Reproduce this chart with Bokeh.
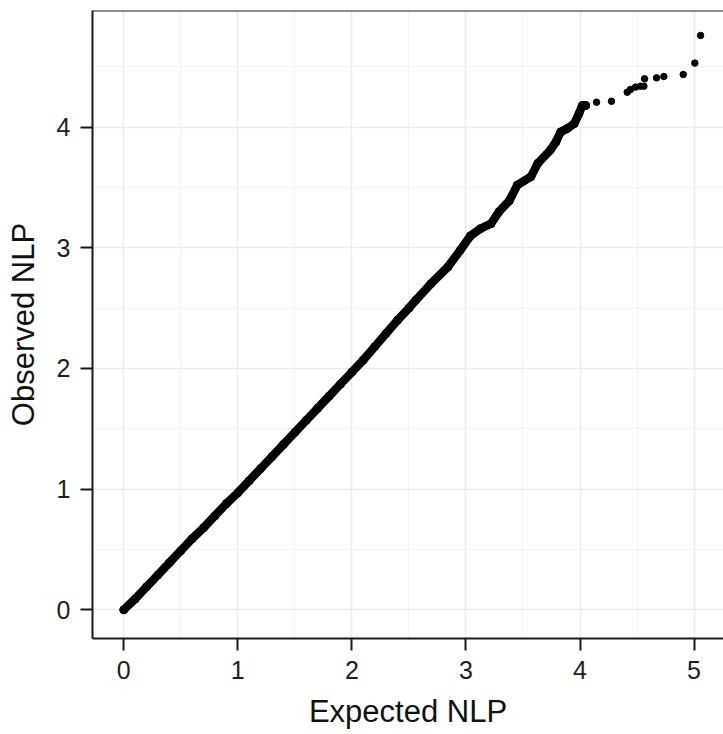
from bokeh.plotting import figure
from bokeh.models import Range1d, SingleIntervalTicker, Span, ColumnDataSource
from bokeh.embed import file_html
from bokeh.resources import INLINE

# Dense part of the QQ trace (expected NLP, observed NLP)
dense_expected = [0.00, 0.10, 0.20, 0.30, 0.40, 0.50, 0.60, 0.70, 0.80, 0.90,
                  1.00, 1.10, 1.20, 1.30, 1.40, 1.50, 1.60, 1.70, 1.80, 1.90,
                  2.00, 2.10, 2.20, 2.30, 2.40, 2.50, 2.56, 2.69, 2.84, 2.95,
                  3.04, 3.13, 3.22, 3.29, 3.38, 3.45, 3.57, 3.63, 3.74, 3.79,
                  3.83, 3.89, 3.95, 3.99, 4.02, 4.05]
dense_observed = [0.00, 0.09, 0.19, 0.29, 0.39, 0.49, 0.59, 0.68, 0.78, 0.88,
                  0.97, 1.07, 1.17, 1.27, 1.37, 1.47, 1.57, 1.67, 1.77, 1.87,
                  1.97, 2.07, 2.18, 2.29, 2.40, 2.50, 2.565, 2.70, 2.84, 2.98,
                  3.10, 3.16, 3.20, 3.30, 3.39, 3.52, 3.59, 3.70, 3.81, 3.88,
                  3.96, 3.99, 4.03, 4.11, 4.18, 4.18]

# Sparse tail points
tail_expected = [4.145, 4.276, 4.414, 4.443, 4.487, 4.530, 4.560, 4.566,
                 4.671, 4.735, 4.905, 5.007, 5.057]
tail_observed = [4.207, 4.215, 4.290, 4.313, 4.332, 4.340, 4.340, 4.401,
                 4.409, 4.420, 4.437, 4.531, 4.760]

x_label = "Expected NLP"
y_label = "Observed NLP"

X_START, X_END = -0.274, 5.258
Y_START, Y_END = -0.238, 4.967

p = figure(width=723, height=734,
           x_range=Range1d(X_START, X_END), y_range=Range1d(Y_START, Y_END),
           output_backend="svg", toolbar_location=None,
           min_border_left=92, min_border_right=0,
           min_border_top=10, min_border_bottom=96)

p.outline_line_color = None
p.background_fill_color = "white"
p.border_fill_color = "white"

for ax in (p.xaxis, p.yaxis):
    ax.ticker = SingleIntervalTicker(interval=1, num_minor_ticks=2)
    ax.axis_line_color = "#1a1a1a"
    ax.axis_line_width = 2
    ax.major_tick_line_color = "#1a1a1a"
    ax.major_tick_line_width = 2
    ax.major_tick_out = 12
    ax.major_tick_in = 0
    ax.minor_tick_line_color = None
    ax.major_label_text_font = "Liberation Sans"
    ax.major_label_text_font_size = "25px"
    ax.major_label_text_color = "#1e1e1e"
    ax.axis_label_text_font = "Liberation Sans"
    ax.axis_label_text_font_size = "31px"
    ax.axis_label_text_font_style = "normal"
    ax.axis_label_text_color = "#111111"

p.xaxis.axis_label = x_label
p.yaxis.axis_label = y_label
p.xaxis.major_label_standoff = 10
p.yaxis.major_label_standoff = 10
p.xaxis.axis_label_standoff = 12
p.yaxis.axis_label_standoff = 13

for g in (p.xgrid, p.ygrid):
    g.grid_line_color = "#ebebeb"
    g.grid_line_width = 1.5
    g.minor_grid_line_color = "#f3f3f3"
    g.minor_grid_line_width = 1

p.add_layout(Span(location=Y_END, dimension="width",
                  line_color="#1a1a1a", line_width=2))

dense = ColumnDataSource(dict(x=dense_expected, y=dense_observed))
tail = ColumnDataSource(dict(x=tail_expected, y=tail_observed))

p.line("x", "y", source=dense, line_color="black", line_width=8.5,
       line_join="round", line_cap="round")
p.scatter("x", "y", source=dense, size=8, color="black")
p.scatter("x", "y", source=tail, size=6.5, color="black")

open("out.html", "w").write(file_html(p, INLINE))
